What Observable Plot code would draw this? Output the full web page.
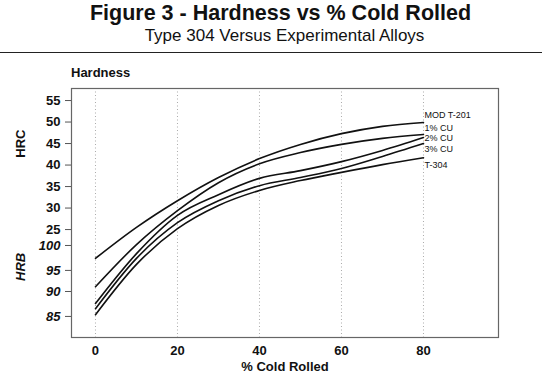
<!DOCTYPE html>
<html>
<head>
<meta charset="utf-8">
<script src="https://cdn.jsdelivr.net/npm/d3@7"></script>
<script src="https://cdn.jsdelivr.net/npm/@observablehq/plot@0.6"></script>
<style>
  html, body { margin: 0; padding: 0; background: #fff; }
  body { font-family: "Liberation Sans", Arial, Helvetica, sans-serif; color: #111; }
  #head { position: relative; width: 545px; height: 80px; }
  #title { position: absolute; left: 8px; width: 545px; top: 3px; text-align: center; font-size: 21.5px; line-height: 21.5px; font-weight: bold; }
  #sub { position: absolute; left: 12px; width: 545px; top: 27px; text-align: center; font-size: 17px; line-height: 17px; }
  #rule { position: absolute; left: 0; width: 542px; top: 52px; height: 0; border-top: 1.5px solid #222; }
  #ylab { position: absolute; left: 71px; top: 66px; font-size: 13px; line-height: 13px; font-weight: bold; }
  #chart { width: 545px; height: 302px; }
</style>
</head>
<body>
<div id="head">
  <div id="title">Figure 3 - Hardness vs % Cold Rolled</div>
  <div id="sub">Type 304 Versus Experimental Alloys</div>
  <div id="rule"></div>
  <div id="ylab">Hardness</div>
</div>
<div id="chart"></div>
<script>
// % cold rolled sample points
const coldRolled = [0, 10, 20, 30, 40, 50, 60, 70, 80];
const seriesNames = ["MOD T-201", "1% CU", "2% CU", "3% CU", "T-304"];
// hardness, expressed on the chart's HRC-equivalent position
const modT201 = [18.3, 25.5, 31.7, 37.1, 41.5, 44.8, 47.3, 49.0, 49.9];
const cu1 = [11.7, 21.5, 29.4, 35.9, 40.3, 42.9, 44.8, 46.2, 47.1];
const cu2 = [7.8, 19.4, 28.3, 33.1, 36.9, 38.7, 40.8, 43.4, 46.4];
const cu3 = [6.6, 18.3, 26.6, 31.7, 35.2, 37.1, 39.2, 42.0, 45.0];
const t304 = [5.2, 16.9, 25.2, 30.6, 34.1, 36.4, 38.3, 40.1, 41.7];
const seriesValues = [modT201, cu1, cu2, cu3, t304];
// end-label heights (HRC-equivalent)
const labelY = [51.7, 48.6, 46.2, 43.6, 39.9];
// axis ticks
const xTicks = [0, 20, 40, 60, 80];
const hrcTicks = [25, 30, 35, 40, 45, 50, 55];
const hrbTicks = [85, 90, 95, 100];
const hrbAsHrc = [4.8, 10.6, 15.5, 21.3];
const hrcTitleY = [41.7];

const rows = seriesNames.flatMap((name, i) =>
  coldRolled.map((x, j) => ({ name, x, y: seriesValues[i][j] })));
const labels = seriesNames.map((name, i) => ({ name, x: coldRolled[coldRolled.length - 1], y: labelY[i] }));

const font = '"Liberation Sans", Arial, Helvetica, sans-serif';
const chart = Plot.plot({
  width: 545,
  height: 302,
  marginLeft: 71,
  marginRight: 47,
  marginTop: 8,
  marginBottom: 45,
  style: { fontFamily: font, color: "#111", background: "#fff", overflow: "visible" },
  x: { domain: [-5.85, 98.3], axis: null },
  y: { domain: [-0.1, 57.8], axis: null },
  marks: [
    Plot.gridX(xTicks, { stroke: "#aaa", strokeOpacity: 1, strokeDasharray: "1,2.5" }),
    Plot.frame({ stroke: "#666", strokeWidth: 1.2 }),
    Plot.axisY(hrcTicks, { anchor: "left", tickSize: 6, tickPadding: 5, fontSize: 13, fontWeight: "bold", label: null, stroke: "#555" }),
    Plot.axisY(hrbAsHrc, { anchor: "left", tickSize: 6, tickPadding: 5, fontSize: 13, fontWeight: "bold", fontStyle: "italic", label: null, stroke: "#555",
      tickFormat: d => hrbTicks[hrbAsHrc.indexOf(d)] }),
    Plot.axisX(xTicks, { anchor: "bottom", tickSize: 0, tickPadding: 8, fontSize: 13, fontWeight: "bold", label: null }),
    Plot.text(["% Cold Rolled"], { frameAnchor: "bottom", dy: 33, fontSize: 13, fontWeight: "bold" }),
    Plot.text(["HRC"], { frameAnchor: "left", y: hrcTitleY, dx: -51, rotate: -90, fontSize: 13, fontWeight: "bold" }),
    Plot.text(["HRB"], { frameAnchor: "left", y: [d3.mean(hrbAsHrc)], dx: -51, rotate: -90, fontSize: 13, fontWeight: "bold", fontStyle: "italic" }),
    Plot.line(rows, { x: "x", y: "y", z: "name", curve: "monotone-x", stroke: "#111", strokeWidth: 1.6 }),
    Plot.text(labels, { x: "x", y: "y", text: "name", textAnchor: "start", dx: 1, fontSize: 9, fill: "#111" })
  ]
});
document.getElementById("chart").append(chart);
</script>
</body>
</html>
